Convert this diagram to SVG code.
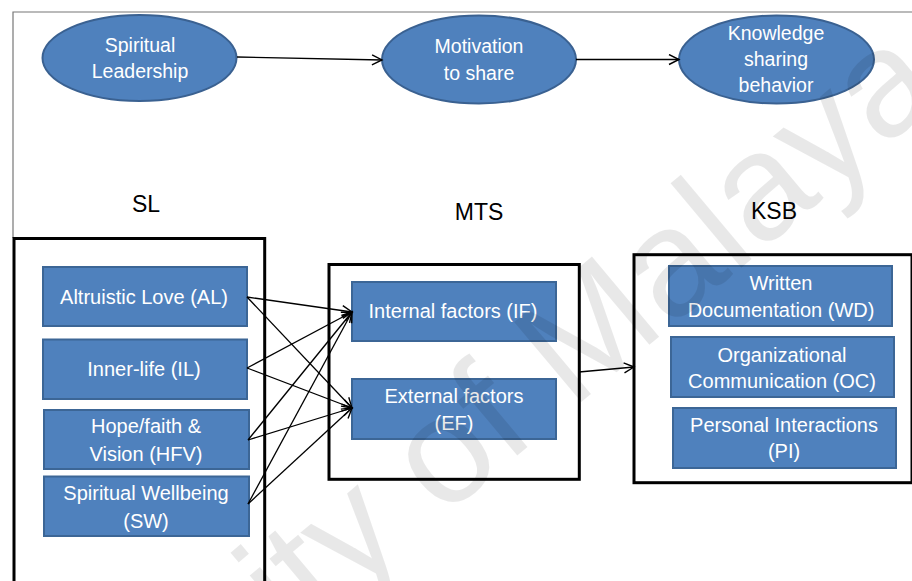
<svg xmlns="http://www.w3.org/2000/svg" width="912" height="581" viewBox="0 0 912 581">
  <defs>
    <style>
      .oval { fill: #4F81BD; stroke: #3A6191; stroke-width: 2; }
      .box { fill: #4F81BD; stroke: #3C6696; stroke-width: 2; }
      .frame { fill: none; stroke: #000; stroke-width: 3; }
      .label { font-family: "Liberation Sans", Arial, sans-serif; font-size: 20px; fill: #FFFFFF; text-anchor: middle; }
      .oval-label { font-family: "Liberation Sans", Arial, sans-serif; font-size: 19.5px; fill: #FFFFFF; text-anchor: middle; }
      .title { font-family: "Liberation Sans", Arial, sans-serif; font-size: 23px; fill: #000; text-anchor: middle; }
      .link { fill: none; stroke: #000; stroke-width: 1.3; marker-end: url(#open-arrow); }
      .watermark { font-family: "Liberation Sans", Arial, sans-serif; font-size: 152px; fill: #000; fill-opacity: 0.09; }
    </style>
    <marker id="open-arrow" markerUnits="userSpaceOnUse" markerWidth="14" markerHeight="14" refX="11" refY="6" orient="auto">
      <path d="M1,1 L11,6 L1,11" fill="none" stroke="#000" stroke-width="1.4"/>
    </marker>
  </defs>

  <rect width="912" height="581" fill="#FFFFFF"/>

  <!-- outer page frame -->
  <path d="M13,238 V12 H912" fill="none" stroke="#777" stroke-width="1.2"/>

  <!-- top row: construct model -->
  <g id="node-spiritual-leadership">
    <ellipse class="oval" cx="139.5" cy="58" rx="97" ry="43"/>
    <text class="oval-label" x="140" y="52">Spiritual</text>
    <text class="oval-label" x="140" y="78">Leadership</text>
  </g>
  <g id="node-motivation">
    <ellipse class="oval" cx="479" cy="59.5" rx="97" ry="44"/>
    <text class="oval-label" x="479" y="53">Motivation</text>
    <text class="oval-label" x="479" y="80">to share</text>
  </g>
  <g id="node-ksb">
    <ellipse class="oval" cx="776.5" cy="59.5" rx="97.5" ry="44"/>
    <text class="oval-label" x="776" y="40">Knowledge</text>
    <text class="oval-label" x="776" y="66">sharing</text>
    <text class="oval-label" x="776" y="92">behavior</text>
  </g>

  <!-- section titles -->
  <text class="title" x="146" y="212">SL</text>
  <text class="title" x="479" y="220">MTS</text>
  <text class="title" x="774" y="219">KSB</text>

  <!-- SL dimensions -->
  <g id="group-sl">
    <path class="frame" d="M14,585 V238.5 H264.7 V585"/>
  </g>
  <g id="node-al">
    <rect class="box" x="43" y="267" width="204" height="59"/>
    <text class="label" x="144" y="304">Altruistic Love (AL)</text>
  </g>
  <g id="node-il">
    <rect class="box" x="43" y="339.5" width="204" height="59.5"/>
    <text class="label" x="144" y="376">Inner-life (IL)</text>
  </g>
  <g id="node-hfv">
    <rect class="box" x="44" y="410" width="205" height="59"/>
    <text class="label" x="146" y="433">Hope/faith &amp;</text>
    <text class="label" x="146" y="461">Vision (HFV)</text>
  </g>
  <g id="node-sw">
    <rect class="box" x="44" y="476.5" width="205" height="59.5"/>
    <text class="label" x="146" y="500">Spiritual Wellbeing</text>
    <text class="label" x="146" y="528">(SW)</text>
  </g>

  <!-- MTS dimensions -->
  <g id="group-mts">
    <rect class="frame" x="329" y="264.5" width="250.3" height="214.8"/>
  </g>
  <g id="node-if">
    <rect class="box" x="352" y="282" width="204" height="59"/>
    <text class="label" x="453" y="318">Internal factors (IF)</text>
  </g>
  <g id="node-ef">
    <rect class="box" x="352" y="379" width="204" height="60"/>
    <text class="label" x="454" y="403">External factors</text>
    <text class="label" x="454" y="430">(EF)</text>
  </g>

  <!-- KSB dimensions -->
  <g id="group-ksb">
    <rect class="frame" x="634" y="254.7" width="278" height="228"/>
  </g>
  <g id="node-wd">
    <rect class="box" x="669" y="266" width="223" height="60"/>
    <text class="label" x="781" y="290">Written</text>
    <text class="label" x="781" y="317">Documentation (WD)</text>
  </g>
  <g id="node-oc">
    <rect class="box" x="671" y="337" width="223" height="60"/>
    <text class="label" x="782" y="362">Organizational</text>
    <text class="label" x="782" y="388">Communication (OC)</text>
  </g>
  <g id="node-pi">
    <rect class="box" x="673" y="408" width="223" height="60"/>
    <text class="label" x="784" y="432">Personal Interactions</text>
    <text class="label" x="784" y="458">(PI)</text>
  </g>

  <!-- connectors -->
  <g id="connectors">
    <line class="link" x1="237" y1="57" x2="382" y2="60"/>
    <line class="link" x1="576" y1="59.5" x2="679" y2="59.5"/>

    <line class="link" x1="247" y1="297" x2="352" y2="312"/>
    <line class="link" x1="247" y1="297" x2="352" y2="408"/>
    <line class="link" x1="247" y1="368" x2="352" y2="312"/>
    <line class="link" x1="247" y1="368" x2="352" y2="408"/>
    <line class="link" x1="248" y1="440" x2="352" y2="312"/>
    <line class="link" x1="248" y1="440" x2="352" y2="408"/>
    <line class="link" x1="248" y1="504" x2="352" y2="312"/>
    <line class="link" x1="248" y1="504" x2="352" y2="408"/>

    <line class="link" x1="579" y1="372" x2="634" y2="367"/>
  </g>

  <!-- repository watermark -->
  <text class="watermark" text-anchor="end" transform="translate(947,95) rotate(-40)">University of Malaya</text>
</svg>
